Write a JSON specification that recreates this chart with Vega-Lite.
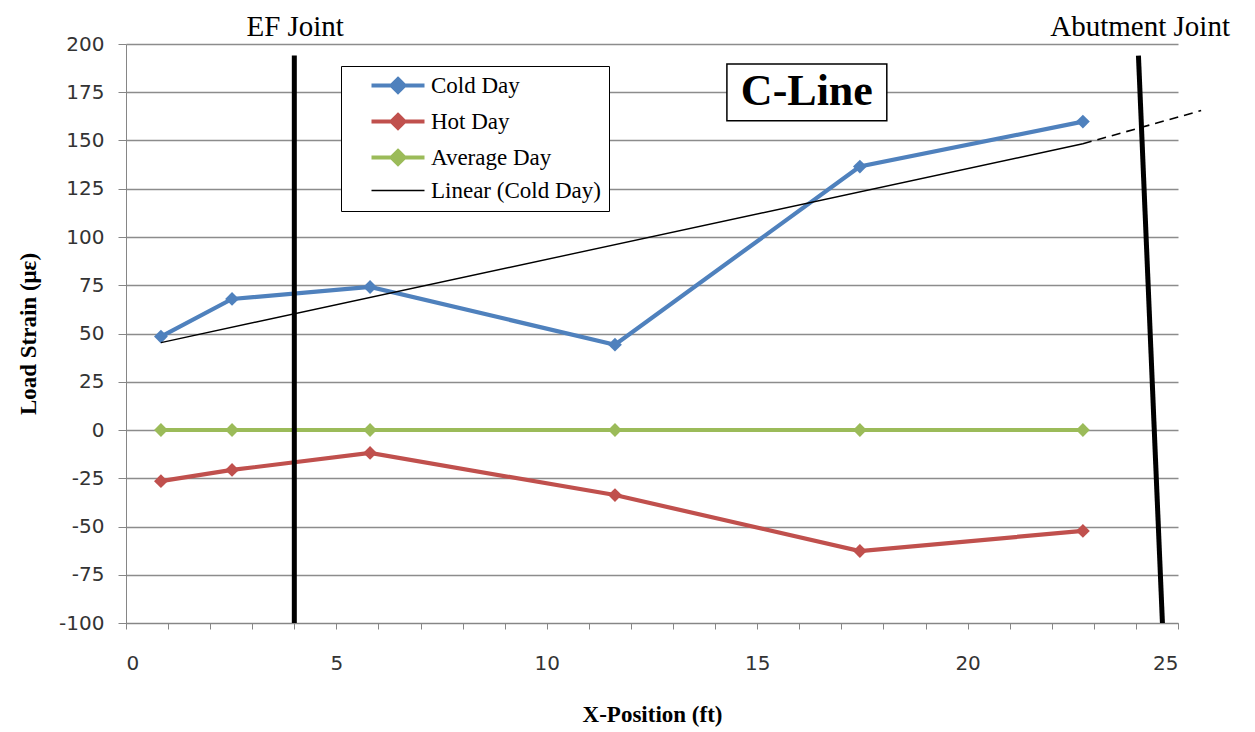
{
  "$schema": "https://vega.github.io/schema/vega-lite/v6.json",
  "width": 1052,
  "height": 579,
  "autosize": {"type": "none"},
  "padding": {"left": 126, "top": 44, "right": 77, "bottom": 109},
  "background": "white",
  "config": {
    "view": {"stroke": null},
    "axis": {
      "labelFont": "DejaVu Sans",
      "labelFontSize": 20,
      "labelColor": "#333333",
      "titleFont": "Liberation Serif",
      "titleFontSize": 23,
      "titleFontWeight": "bold",
      "titleColor": "black",
      "domainColor": "#868686",
      "tickColor": "#868686",
      "gridColor": "#8c8c8c",
      "gridWidth": 1.3
    }
  },
  "datasets": {
    "series": [
      {"x": 0.83, "y": 48.4, "series": "Cold Day"},
      {"x": 2.52, "y": 67.9, "series": "Cold Day"},
      {"x": 5.8, "y": 74.1, "series": "Cold Day"},
      {"x": 11.62, "y": 44.2, "series": "Cold Day"},
      {"x": 17.44, "y": 136.5, "series": "Cold Day"},
      {"x": 22.74, "y": 159.8, "series": "Cold Day"},
      {"x": 0.83, "y": -26.5, "series": "Hot Day"},
      {"x": 2.52, "y": -20.7, "series": "Hot Day"},
      {"x": 5.8, "y": -11.9, "series": "Hot Day"},
      {"x": 11.62, "y": -33.7, "series": "Hot Day"},
      {"x": 17.44, "y": -62.7, "series": "Hot Day"},
      {"x": 22.74, "y": -52.3, "series": "Hot Day"},
      {"x": 0.83, "y": 0, "series": "Average Day"},
      {"x": 2.52, "y": 0, "series": "Average Day"},
      {"x": 5.8, "y": 0, "series": "Average Day"},
      {"x": 11.62, "y": 0, "series": "Average Day"},
      {"x": 17.44, "y": 0, "series": "Average Day"},
      {"x": 22.74, "y": 0, "series": "Average Day"}
    ],
    "trend": [
      {"x": 0.83, "y": 45.3, "series": "Linear (Cold Day)"},
      {"x": 22.74, "y": 148.3, "series": "Linear (Cold Day)"}
    ],
    "extension": [
      {"x": 22.74, "y": 148.3},
      {"x": 25.55, "y": 165.5}
    ],
    "joints": [
      {"x": 4.0, "x2": 4.0, "y": 194, "y2": -100},
      {"x": 24.06, "x2": 24.63, "y": 194, "y2": -100}
    ],
    "jointLabels": [
      {"x": 4.02, "y": 209, "label": "EF Joint"},
      {"x": 24.1, "y": 209, "label": "Abutment Joint"}
    ],
    "box": [
      {"x": 14.28, "x2": 18.08, "y": 189.7, "y2": 160.2, "xc": 16.18, "yc": 175.2, "label": "C-Line"}
    ]
  },
  "layer": [
    {
      "data": {"name": "series"},
      "mark": {"type": "line", "strokeWidth": 4.2},
      "encoding": {
        "x": {
          "field": "x", "type": "quantitative",
          "scale": {"domain": [0, 25], "nice": false, "zero": false},
          "axis": {
            "title": "X-Position (ft)",
            "values": [0,1,2,3,4,5,6,7,8,9,10,11,12,13,14,15,16,17,18,19,20,21,22,23,24,25],
            "labelExpr": "datum.value % 5 === 0 ? datum.label : ''",
            "grid": false,
            "tickSize": 6,
            "labelPadding": 24,
            "titlePadding": 30
          }
        },
        "y": {
          "field": "y", "type": "quantitative",
          "scale": {"domain": [-100, 200], "nice": false, "zero": false},
          "axis": {
            "title": "Load Strain (με)",
            "values": [-100,-75,-50,-25,0,25,50,75,100,125,150,175,200],
            "labelExpr": "'' + datum.value",
            "grid": true,
            "tickSize": 8,
            "labelPadding": 14,
            "titlePadding": 18
          }
        },
        "color": {
          "field": "series", "type": "nominal",
          "scale": {
            "domain": ["Cold Day", "Hot Day", "Average Day", "Linear (Cold Day)"],
            "range": ["#4F81BD", "#C0504D", "#9BBB59", "#000000"]
          },
          "legend": {
            "title": null,
            "orient": "none",
            "legendX": 215,
            "legendY": 22,
            "strokeColor": "black",
            "fillColor": "white",
            "padding": 8,
            "labelFont": "Liberation Serif",
            "labelFontSize": 23,
            "labelColor": "black",
            "labelLimit": 400,
            "labelOffset": 59,
            "symbolSize": 100,
            "rowPadding": 7,
            "encode": {
              "symbols": {
                "update": {
                  "shape": {"signal": "datum.value === 'Linear (Cold Day)' ? 'M2.2,0H12.8' : 'M2.2,0H12.8M7.5,-1.3L8.8,0L7.5,1.3L6.2,0Z'"},
                  "strokeWidth": {"signal": "datum.value === 'Linear (Cold Day)' ? 1.5 : 4"},
                  "fill": {"scale": "color", "field": "value"},
                  "stroke": {"scale": "color", "field": "value"},
                  "opacity": {"value": 1}
                }
              }
            }
          }
        }
      }
    },
    {
      "data": {"name": "series"},
      "mark": {"type": "point", "shape": "diamond", "filled": true, "size": 190, "opacity": 1},
      "encoding": {
        "x": {"field": "x", "type": "quantitative"},
        "y": {"field": "y", "type": "quantitative"},
        "color": {"field": "series", "type": "nominal"}
      }
    },
    {
      "data": {"name": "trend"},
      "mark": {"type": "line", "strokeWidth": 1.4},
      "encoding": {
        "x": {"field": "x", "type": "quantitative"},
        "y": {"field": "y", "type": "quantitative"},
        "color": {"field": "series", "type": "nominal"}
      }
    },
    {
      "data": {"name": "extension"},
      "mark": {"type": "line", "strokeWidth": 1.6, "color": "black", "strokeDash": [9, 6], "clip": false},
      "encoding": {
        "x": {"field": "x", "type": "quantitative"},
        "y": {"field": "y", "type": "quantitative"}
      }
    },
    {
      "data": {"name": "joints"},
      "mark": {"type": "rule", "strokeWidth": 5, "color": "black", "clip": false},
      "encoding": {
        "x": {"field": "x", "type": "quantitative"},
        "x2": {"field": "x2"},
        "y": {"field": "y", "type": "quantitative"},
        "y2": {"field": "y2"}
      }
    },
    {
      "data": {"name": "jointLabels"},
      "mark": {"type": "text", "font": "Liberation Serif", "fontSize": 29, "color": "black", "align": "center", "baseline": "middle", "clip": false},
      "encoding": {
        "x": {"field": "x", "type": "quantitative"},
        "y": {"field": "y", "type": "quantitative"},
        "text": {"field": "label"}
      }
    },
    {
      "data": {"name": "box"},
      "mark": {"type": "rect", "fill": "white", "stroke": "black", "strokeWidth": 1.5},
      "encoding": {
        "x": {"field": "x", "type": "quantitative"},
        "x2": {"field": "x2"},
        "y": {"field": "y", "type": "quantitative"},
        "y2": {"field": "y2"}
      }
    },
    {
      "data": {"name": "box"},
      "mark": {"type": "text", "font": "Liberation Serif", "fontSize": 44, "fontWeight": "bold", "color": "black", "align": "center", "baseline": "middle"},
      "encoding": {
        "x": {"field": "xc", "type": "quantitative"},
        "y": {"field": "yc", "type": "quantitative"},
        "text": {"field": "label"}
      }
    }
  ]
}
